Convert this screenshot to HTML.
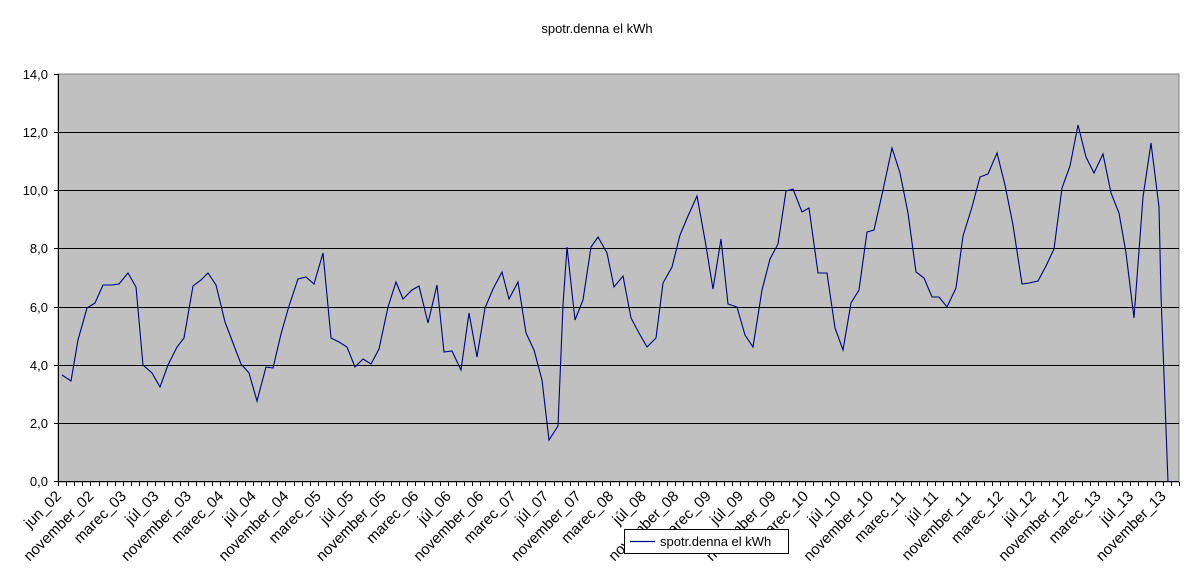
<!DOCTYPE html>
<html><head><meta charset="utf-8"><style>
html,body{margin:0;padding:0;background:#fff;}
svg{display:block;font-family:"Liberation Sans",Arial,sans-serif;}
</style></head><body>
<svg width="1194" height="574" xmlns="http://www.w3.org/2000/svg">
<rect width="1194" height="574" fill="#fff"/>
<text x="597" y="33" font-size="13" text-anchor="middle">spotr.denna el kWh</text>
<rect x="58" y="74" width="1121" height="408" fill="#c0c0c0" stroke="#808080" stroke-width="1"/>
<g stroke="#000" stroke-width="1">
<line x1="58" y1="132.5" x2="1179" y2="132.5"/>
<line x1="58" y1="190.5" x2="1179" y2="190.5"/>
<line x1="58" y1="248.5" x2="1179" y2="248.5"/>
<line x1="58" y1="307.5" x2="1179" y2="307.5"/>
<line x1="58" y1="365.5" x2="1179" y2="365.5"/>
<line x1="58" y1="423.5" x2="1179" y2="423.5"/>
<line x1="58.5" y1="74" x2="58.5" y2="482"/>
<line x1="58" y1="481.5" x2="1179" y2="481.5"/>
<line x1="54" y1="74.5" x2="58" y2="74.5"/><line x1="54" y1="132.5" x2="58" y2="132.5"/><line x1="54" y1="190.5" x2="58" y2="190.5"/><line x1="54" y1="248.5" x2="58" y2="248.5"/><line x1="54" y1="307.5" x2="58" y2="307.5"/><line x1="54" y1="365.5" x2="58" y2="365.5"/><line x1="54" y1="423.5" x2="58" y2="423.5"/><line x1="54" y1="481.5" x2="58" y2="481.5"/>
</g>
<g font-size="13" text-anchor="end">
<text x="48" y="79">14,0</text><text x="48" y="137">12,0</text><text x="48" y="195">10,0</text><text x="48" y="253">8,0</text><text x="48" y="312">6,0</text><text x="48" y="370">4,0</text><text x="48" y="428">2,0</text><text x="48" y="486">0,0</text>
</g>
<polyline fill="none" stroke="#000080" stroke-width="1.1" points="62,375 71,381 78,340 87,308 95,303 103,285 112,285 119,284 128,273 136,287 143,365 152,373 160,387 168,365 177,347 184,338 193,286 201,280 208,273 216,285 225,322 233,343 241,364 249,373 257,401 266,367 273,368 281,334 289,306 298,279 306,277 314,284 323,253 331,338 339,342 347,347 355,367 363,359 371,364 379,349 388,307 396,282 403,299 412,290 419,286 428,323 437,285 444,352 452,351 461,370 469,313 477,357 485,308 493,289 502,272 509,299 518,282 526,333 534,350 542,380 549,440 558,426 563,305 567,247 575,320 583,300 591,247 598,237 607,253 614,287 623,276 631,318 639,333 647,347 656,338 663,283 672,267 680,235 688,216 697,196 705,240 713,289 721,239 728,304 737,307 745,335 753,347 762,290 770,259 778,244 786,191 793,189 802,212 809,208 818,273 827,273 835,328 843,350 851,303 859,290 867,232 874,230 883,190 892,148 900,173 908,213 916,272 924,278 932,297 939,297 947,307 956,288 963,236 972,207 980,177 988,174 997,153 1005,185 1013,225 1022,284 1029,283 1038,281 1046,266 1054,249 1062,188 1070,166 1078,125 1086,157 1094,173 1103,154 1111,193 1119,213 1126,253 1134,318 1143,197 1151,143 1159,207 1161,295 1168,482"/>
<g id="xt" stroke="#000" stroke-width="1"></g>
<g id="xl" font-size="15" text-anchor="end"></g>
<rect x="624.5" y="529.5" width="164" height="24" fill="#fff" stroke="#000" stroke-width="1"/>
<line x1="630" y1="541.5" x2="655" y2="541.5" stroke="#000080" stroke-width="1.2"/>
<text x="660" y="546" font-size="13">spotr.denna el kWh</text>
<script>
var ns="http://www.w3.org/2000/svg",g=document.getElementById("xt"),l=document.getElementById("xl");
var step=1121/138;
for(var i=0;i<=138;i++){var x=Math.round(58+i*step)+0.5;var t=document.createElementNS(ns,"line");t.setAttribute("x1",x);t.setAttribute("x2",x);t.setAttribute("y1",482);t.setAttribute("y2",486);g.appendChild(t);}
var names=["jun_02","november_02"];var yrs=["03","04","05","06","07","08","09","10","11","12","13"];
yrs.forEach(function(y){names.push("marec_"+y,"júl_"+y,"november_"+y);});
names.forEach(function(n,i){var x=62+i*4*step,y=497;var t=document.createElementNS(ns,"text");t.setAttribute("x",x);t.setAttribute("y",y);t.setAttribute("transform","rotate(-45 "+x+" "+y+")");t.textContent=n;l.appendChild(t);});
</script>
</svg>
</body></html>
